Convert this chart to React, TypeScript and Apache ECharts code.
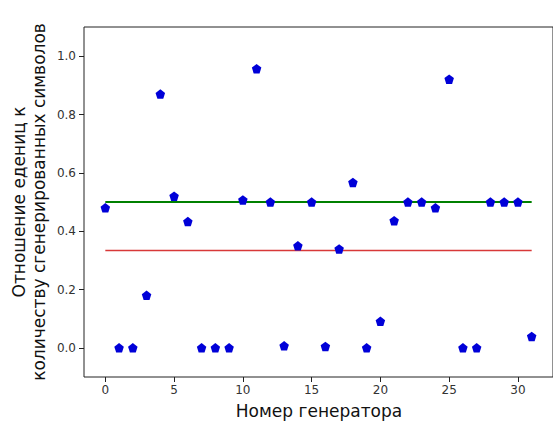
import React, { useEffect, useRef } from "react";
import * as echarts from "echarts";

const generators: number[] = Array.from({ length: 32 }, (_, i) => i);
const ratios: number[] = [
  0.48, 0.0, 0.0, 0.18, 0.87, 0.52, 0.433, 0.0, 0.0, 0.0,
  0.507, 0.957, 0.5, 0.007, 0.35, 0.5, 0.005, 0.339, 0.567, 0.0,
  0.091, 0.436, 0.5, 0.5, 0.48, 0.921, 0.0, 0.0, 0.5, 0.5,
  0.5, 0.039,
];
const greenLevel: number = 0.5;
const redLevel: number = 1 / 3;
const xTicks: number[] = [0, 5, 10, 15, 20, 25, 30];
const yTicks: number[] = [0, 0.2, 0.4, 0.6, 0.8, 1.0];
const xTitle = "Номер генератора";
const yTitle = "Отношение едениц к\nколичеству сгенерированных символов";

const pentagon =
  "path://M0,-1 L0.951,-0.309 L0.588,0.809 L-0.588,0.809 L-0.951,-0.309 Z";

export default function App() {
  const ref = useRef<HTMLDivElement>(null);
  useEffect(() => {
    if (!ref.current) return;
    const chart = echarts.init(ref.current, undefined, { renderer: "svg" });
    const font = "DejaVu Sans";
    const xFirst = generators[0];
    const xLast = generators[generators.length - 1];
    chart.setOption({
      animation: false,
      backgroundColor: "#fff",
      grid: {
        left: 84,
        top: 27,
        right: -1,
        bottom: 46,
        show: true,
        borderColor: "#222",
        borderWidth: 1,
        backgroundColor: "transparent",
      },
      xAxis: {
        type: "value",
        min: -1.55,
        max: 32.55,
        axisLine: { show: false, onZero: false },
        splitLine: { show: false },
        axisTick: {
          show: true,
          customValues: xTicks,
          length: 5,
          lineStyle: { color: "#222" },
        },
        axisLabel: {
          customValues: xTicks,
          fontFamily: font,
          fontSize: 12,
          color: "#333",
          margin: 7,
          formatter: (v: number) => String(v),
        },
      },
      yAxis: {
        type: "value",
        min: -0.1,
        max: 1.1,
        axisLine: { show: false, onZero: false },
        splitLine: { show: false },
        axisTick: {
          show: true,
          customValues: yTicks,
          length: 5,
          lineStyle: { color: "#222" },
        },
        axisLabel: {
          customValues: yTicks,
          fontFamily: font,
          fontSize: 12,
          color: "#333",
          margin: 8,
          formatter: (v: number) => v.toFixed(1),
        },
      },
      graphic: [
        {
          type: "text",
          x: 319,
          y: 411,
          style: {
            text: xTitle,
            fontFamily: font,
            fontSize: 17,
            fill: "#111",
            align: "center",
            verticalAlign: "middle",
          },
        },
        {
          type: "text",
          x: 29,
          y: 202,
          rotation: Math.PI / 2,
          style: {
            text: yTitle,
            fontFamily: font,
            fontSize: 17,
            lineHeight: 20,
            fill: "#111",
            align: "center",
            verticalAlign: "middle",
          },
        },
      ],
      series: [
        {
          type: "line",
          data: [
            [xFirst, greenLevel],
            [xLast, greenLevel],
          ],
          showSymbol: false,
          lineStyle: { color: "#008000", width: 2 },
          z: 2,
        },
        {
          type: "line",
          data: [
            [xFirst, redLevel],
            [xLast, redLevel],
          ],
          showSymbol: false,
          lineStyle: { color: "#d83838", width: 1.5 },
          z: 2,
        },
        {
          type: "scatter",
          data: generators.map((g, i) => [g, ratios[i]]),
          symbol: pentagon,
          symbolSize: 9.5,
          itemStyle: { color: "#0000d8", opacity: 1 },
          z: 3,
        },
      ],
    });
    return () => chart.dispose();
  }, []);
  return (
    <div
      ref={ref}
      style={{ position: "fixed", left: 0, top: 0, width: 553, height: 423 }}
    />
  );
}
